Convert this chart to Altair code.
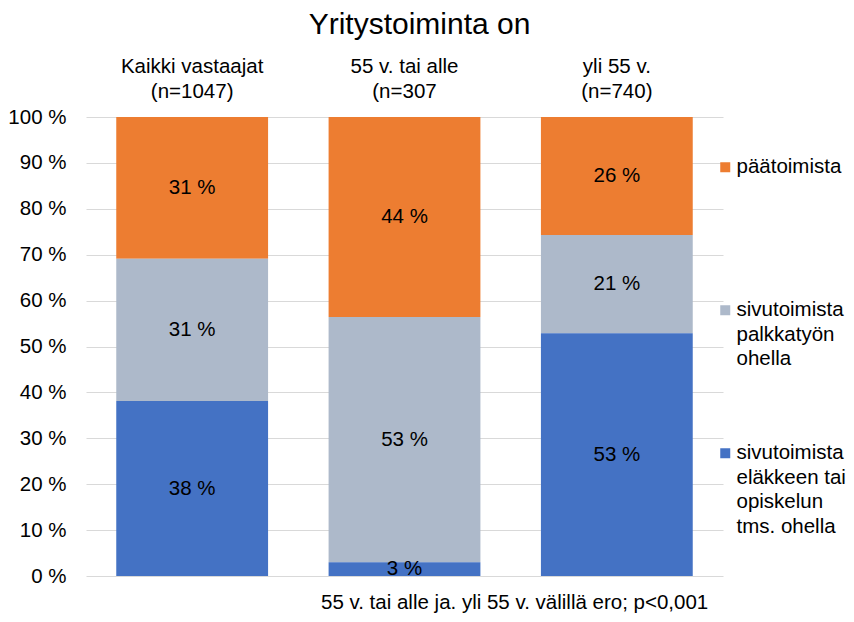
import altair as alt
import pandas as pd

# ---- data ----
groups = ["Kaikki vastaajat|(n=1047)", "55 v. tai alle|(n=307", "yli 55 v.|(n=740)"]
series = [
    "päätoimista",
    "sivutoimista|palkkatyön|ohella",
    "sivutoimista|eläkkeen tai|opiskelun|tms. ohella",
]
stack_order = [2, 1, 0]  # position in the stack from the bottom
colors = ["#ED7D31", "#ADB9CA", "#4472C4"]

paatoimista = [30.9, 43.6, 25.7]
palkkatyo = [31.0, 53.4, 21.4]
elake = [38.1, 3.0, 52.9]

y_ticks = [0, 10, 20, 30, 40, 50, 60, 70, 80, 90, 100]
title_text = "Yritystoiminta on"
footer_text = "55 v. tai alle ja. yli 55 v. välillä ero; p<0,001"

rows = []
for s, o, vals in zip(series, stack_order, [paatoimista, palkkatyo, elake]):
    for g, v in zip(groups, vals):
        rows.append({"group": g, "series": s, "order": o, "value": v})
df = pd.DataFrame(rows)

FONT = "Liberation Sans"
FS = 20.5
W, H = 637, 459

base = alt.Chart(df).transform_stack(
    stack="value",
    groupby=["group"],
    as_=["y0", "y1"],
    sort=[alt.SortField("order", order="ascending")],
).transform_calculate(
    mid="(datum.y0 + datum.y1) / 2",
    label="format(datum.value, '.0f') + ' %'",
)

x_enc = alt.X(
    "group:N",
    sort=groups,
    scale=alt.Scale(paddingInner=0.285, paddingOuter=0.1425),
    axis=alt.Axis(
        orient="top", title=None, labelAngle=0, domain=False, ticks=False,
        labelExpr="split(datum.label, '|')", labelFontSize=FS, labelFont=FONT,
        labelColor="#000000", labelLineHeight=25, labelPadding=41,
    ),
)

bars = base.mark_bar().encode(
    x=x_enc,
    y=alt.Y(
        "y0:Q",
        scale=alt.Scale(domain=[0, 100], nice=False),
        axis=alt.Axis(
            values=y_ticks, labelExpr="datum.value + ' %'", title=None,
            domain=False, ticks=False, grid=True, gridColor="#d9d9d9",
            labelFontSize=FS, labelFont=FONT, labelColor="#000000", labelPadding=20,
        ),
    ),
    y2="y1:Q",
    color=alt.Color(
        "series:N",
        scale=alt.Scale(domain=series, range=colors),
        legend=alt.Legend(
            title=None, orient="none", legendX=629, legendY=40,
            symbolType="square", symbolSize=100, symbolStrokeWidth=0,
            labelExpr="split(datum.label + slice('|||', 0, 4 - length(split(datum.label, '|'))), '|')",
            labelFontSize=FS, labelFont=FONT, labelColor="#000000",
            labelOffset=1, labelBaseline="middle",
            rowPadding=48, padding=0, labelLimit=300,
        ),
    ),
)

labels = base.mark_text(fontSize=FS, font=FONT, color="#000000").encode(
    x=alt.X("group:N", sort=groups),
    y=alt.Y("mid:Q"),
    text="label:N",
)

footer = alt.Chart(pd.DataFrame({"t": [footer_text]})).mark_text(
    fontSize=FS, font=FONT, color="#000000", align="left", baseline="middle"
).encode(x=alt.value(235), y=alt.value(H + 27), text="t:N")

chart = alt.layer(bars, labels, footer).properties(
    width=W,
    height=H,
    title=alt.TitleParams(
        title_text, fontSize=30, font=FONT, fontWeight="normal", color="#000000",
        anchor="middle", dx=15, offset=16,
    ),
    autosize=alt.AutoSizeParams(type="none"),
    padding={"left": 78, "top": 109, "right": 123, "bottom": 38},
).configure(
    view=alt.ViewConfig(stroke=None),
    style={"guide-label": {"lineHeight": 24.5}},
)

chart.save("out.html", embed_options={"renderer": "svg", "actions": False})
